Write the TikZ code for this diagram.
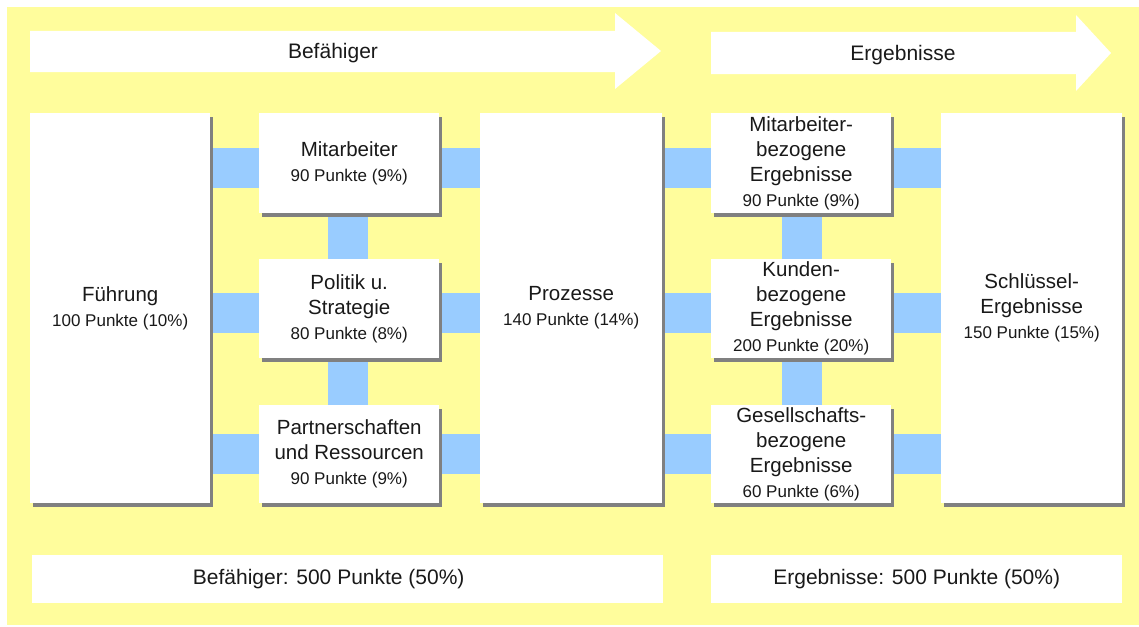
\documentclass[tikz,border=0pt]{standalone}
\usepackage{fontspec}
\setmainfont{Liberation Sans}
\usetikzlibrary{shadows}
\definecolor{bgyellow}{RGB}{255,253,156}
\definecolor{barblue}{RGB}{153,204,255}
\definecolor{shadowgray}{RGB}{128,128,128}
\definecolor{txt}{RGB}{25,25,25}
\newcommand\pts{\fontsize{17}{25}\selectfont}
\pgfdeclarelayer{ground}
\pgfdeclarelayer{bars}
\pgfsetlayers{ground,bars,main}
\begin{document}
\begin{tikzpicture}[x=1pt,y=-1pt,
  box/.style={fill=white, inner sep=0pt, anchor=north west, align=center,
    text=txt, font=\fontsize{20.5}{25}\selectfont,
    drop shadow={shadow xshift=3pt, shadow yshift=-3.5pt, fill=shadowgray, opacity=1}},
  bar/.style={draw=barblue, line width=40pt},
  flat/.style={fill=white, inner sep=0pt, anchor=north west, text=txt,
    font=\fontsize{21}{25}\selectfont},
  label/.style={text=txt, font=\fontsize{21}{25}\selectfont, inner sep=0pt},
]
\useasboundingbox (0,0) rectangle (1139,626);
% background
\begin{pgfonlayer}{ground}
  \fill[bgyellow] (7,7) rectangle (1139,625);
\end{pgfonlayer}

% direction arrows
\fill[white] (30,31) -- (615,31) -- (615,13) -- (661,51) -- (615,89) -- (615,72) -- (30,72) -- cycle;
\node[label] (befTitle) at (333,53) {Befähiger};
\fill[white] (711,32) -- (1076,32) -- (1076,15) -- (1111,53) -- (1076,91) -- (1076,74) -- (711,74) -- cycle;
\node[label] (ergTitle) at (903,55) {Ergebnisse};

% coordinates of the bar rows
\coordinate (r1) at (0,168);
\coordinate (r2) at (0,313);
\coordinate (r3) at (0,453.5);

% criteria boxes
\node[box, minimum width=180pt, minimum height=390pt] (fuehr) at (30,113)
  {Führung\\\pts 100 Punkte (10\%)};
\node[box, minimum width=180pt, minimum height=100pt] (mit) at (259,113)
  {Mitarbeiter\\\pts 90 Punkte (9\%)};
\node[box, minimum width=180pt, minimum height=99pt] (pol) at (259,259)
  {Politik u.\\Strategie\\\pts 80 Punkte (8\%)};
\node[box, minimum width=180pt, minimum height=98pt] (part) at (259,405)
  {Partnerschaften\\und Ressourcen\\\pts 90 Punkte (9\%)};
\node[box, minimum width=182pt, minimum height=390pt] (proz) at (480,113)
  {Prozesse\\\pts 140 Punkte (14\%)};
\node[box, minimum width=180pt, minimum height=100pt] (mer) at (711,113)
  {Mitarbeiter-\\bezogene\\Ergebnisse\\\pts 90 Punkte (9\%)};
\node[box, minimum width=180pt, minimum height=99pt] (ker) at (711,259)
  {Kunden-\\bezogene\\Ergebnisse\\\pts 200 Punkte (20\%)};
\node[box, minimum width=180pt, minimum height=98pt] (ger) at (711,405)
  {Gesellschafts-\\bezogene\\Ergebnisse\\\pts 60 Punkte (6\%)};
\node[box, minimum width=181pt, minimum height=390pt] (ser) at (941,113)
  {Schlüssel-\\Ergebnisse\\\pts 150 Punkte (15\%)};

% blue connecting bars, drawn behind the boxes
\begin{pgfonlayer}{bars}
  \foreach \r in {r1,r2,r3} {
    \draw[bar] (fuehr.east |- \r) -- (mit.west |- \r);
    \draw[bar] (mit.east |- \r) -- (proz.west |- \r);
    \draw[bar] (proz.east |- \r) -- (mer.west |- \r);
    \draw[bar] (mer.east |- \r) -- (ser.west |- \r);
  }
  \draw[bar] ([xshift=-1pt]mit.south) -- ([xshift=-1pt]pol.north);
  \draw[bar] ([xshift=-1pt]pol.south) -- ([xshift=-1pt]part.north);
  \draw[bar] ([xshift=0.5pt]mer.south) -- ([xshift=0.5pt]ker.north);
  \draw[bar] ([xshift=0.5pt]ker.south) -- ([xshift=0.5pt]ger.north);
\end{pgfonlayer}

% totals
\node[flat, minimum width=631pt, minimum height=48pt] (befSum) at (32,555) {};
\node[label] (befSumText) at ([xshift=-19pt]befSum.center) {Befähiger: 500 Punkte (50\%)};
\node[flat, minimum width=411pt, minimum height=48pt] (ergSum) at (711,555)
  {Ergebnisse: 500 Punkte (50\%)};
\end{tikzpicture}
\end{document}
